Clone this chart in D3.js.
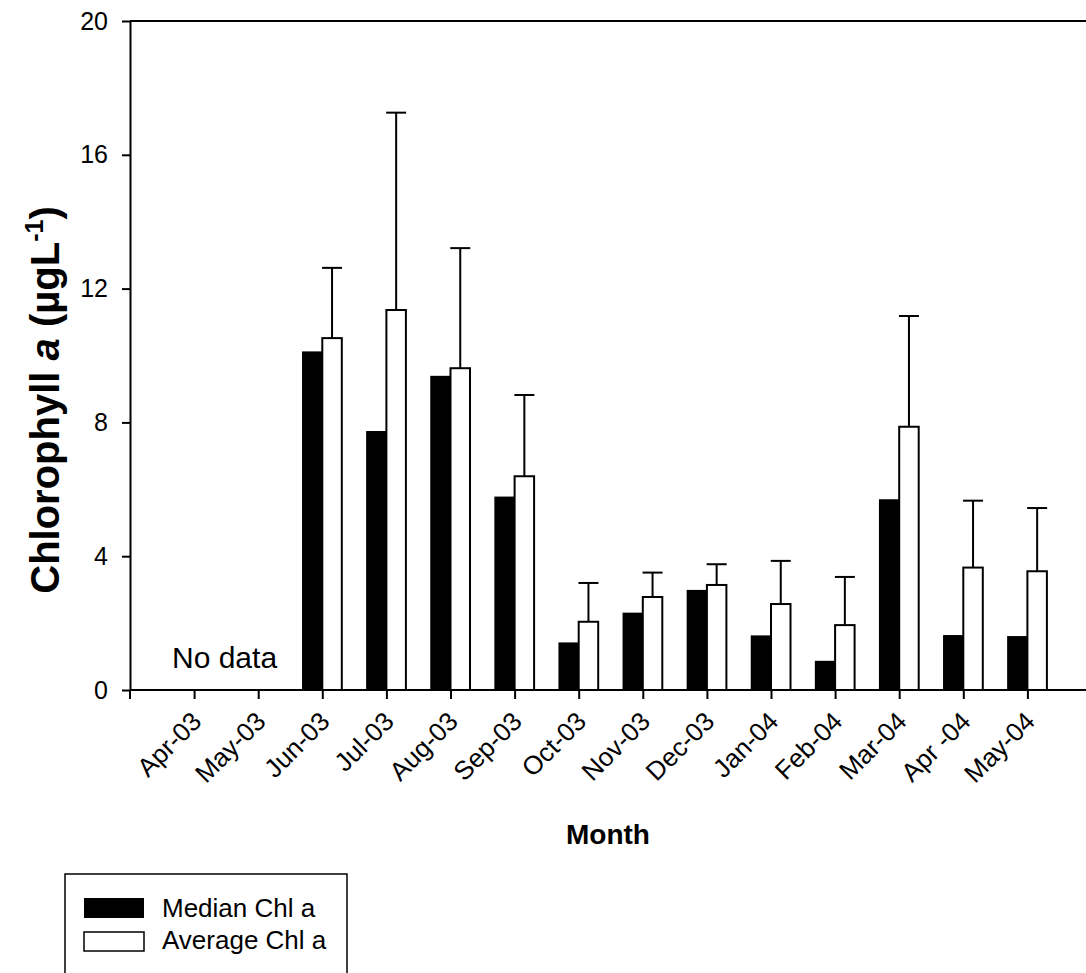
<!DOCTYPE html>
<html>
<head>
<meta charset="utf-8">
<script src="https://cdn.jsdelivr.net/npm/d3@7/dist/d3.min.js"></script>
<style>
  html, body { margin: 0; padding: 0; background: #fff; }
  svg { display: block; font-family: "Liberation Sans", Arial, Helvetica, sans-serif; }
</style>
</head>
<body>
<svg id="chart" width="1086" height="973"></svg>
<script>
// Monthly chlorophyll a, median and average with upper error (mean + SD)
const months = ["Apr-03", "May-03", "Jun-03", "Jul-03", "Aug-03", "Sep-03", "Oct-03",
                "Nov-03", "Dec-03", "Jan-04", "Feb-04", "Mar-04", "Apr -04", "May-04"];
const medianChl = [null, null, 10.10, 7.72, 9.37, 5.76, 1.40, 2.29, 2.97, 1.61, 0.85, 5.68, 1.62, 1.59];
const averageChl = [null, null, 10.52, 11.36, 9.62, 6.39, 2.04, 2.78, 3.14, 2.57, 1.94, 7.87, 3.66, 3.55];
const errorTop = [null, null, 12.62, 17.26, 13.21, 8.82, 3.20, 3.51, 3.76, 3.86, 3.38, 11.18, 5.66, 5.44];
const yTicks = [0, 4, 8, 12, 16, 20];

const svg = d3.select("#chart");
const plotLeft = 130, plotTop = 21, plotBottom = 690, step = 64.1;
const plotRight = plotLeft + step * 15;

const x = d3.scalePoint()
  .domain(months)
  .range([plotLeft, plotRight])
  .padding(1);

const y = d3.scaleLinear().domain([0, 20]).range([plotBottom, plotTop]);

const barW = 19.5;
const rows = months.map((m, i) => ({
  month: m, median: medianChl[i], average: averageChl[i], err: errorTop[i]
})).filter(d => d.median !== null);

// Axes
const yAxis = d3.axisLeft(y).tickValues(yTicks).tickSize(8).tickSizeOuter(0).tickPadding(14);
svg.append("g")
  .attr("transform", `translate(${plotLeft},0)`)
  .call(yAxis)
  .call(g => {
    g.select(".domain").attr("stroke-width", 2);
    g.selectAll(".tick line").attr("stroke-width", 2);
    g.selectAll(".tick text").attr("font-size", 25).attr("fill", "#000")
      .attr("font-family", "'Liberation Sans', Arial, sans-serif");
  });

const xAxis = d3.axisBottom(x).tickSize(9).tickSizeOuter(0).tickFormat(() => "");
svg.append("g")
  .attr("transform", `translate(0,${plotBottom})`)
  .call(xAxis)
  .call(g => {
    g.select(".domain").attr("stroke-width", 2).attr("d", `M${plotLeft},0H${plotRight}`);
    g.selectAll(".tick line").attr("stroke-width", 2);
  });

// tick at the origin
svg.append("line")
  .attr("x1", plotLeft).attr("x2", plotLeft).attr("y1", plotBottom).attr("y2", plotBottom + 9)
  .attr("stroke", "#000").attr("stroke-width", 2);

// top frame line
svg.append("line")
  .attr("x1", plotLeft).attr("x2", plotRight).attr("y1", y(20)).attr("y2", y(20))
  .attr("stroke", "#000").attr("stroke-width", 2);

// rotated month labels
svg.append("g").selectAll("text")
  .data(months)
  .join("text")
  .attr("transform", d => `translate(${x(d) + 9},${plotBottom + 33}) rotate(-45)`)
  .attr("text-anchor", "end")
  .attr("font-size", 26)
  .text(d => d);

// bars
const bars = svg.append("g");
bars.selectAll("rect.median")
  .data(rows)
  .join("rect")
  .attr("class", "median")
  .attr("x", d => x(d.month) - barW)
  .attr("width", barW)
  .attr("y", d => y(d.median))
  .attr("height", d => y(0) - y(d.median))
  .attr("fill", "#000")
  .attr("stroke", "#000")
  .attr("stroke-width", 1.5);

bars.selectAll("rect.average")
  .data(rows)
  .join("rect")
  .attr("class", "average")
  .attr("x", d => x(d.month))
  .attr("width", barW)
  .attr("y", d => y(d.average))
  .attr("height", d => y(0) - y(d.average))
  .attr("fill", "#fff")
  .attr("stroke", "#000")
  .attr("stroke-width", 2);

// upper error bars on the averages
const eg = bars.append("g").attr("stroke", "#000").attr("stroke-width", 2);
eg.selectAll("line.stem")
  .data(rows)
  .join("line")
  .attr("class", "stem")
  .attr("x1", d => x(d.month) + barW / 2).attr("x2", d => x(d.month) + barW / 2)
  .attr("y1", d => y(d.average)).attr("y2", d => y(d.err));
eg.selectAll("line.cap")
  .data(rows)
  .join("line")
  .attr("class", "cap")
  .attr("x1", d => x(d.month) + barW / 2 - 10).attr("x2", d => x(d.month) + barW / 2 + 10)
  .attr("y1", d => y(d.err)).attr("y2", d => y(d.err));

// note for the missing months
svg.append("text")
  .attr("x", 172).attr("y", 668)
  .attr("font-size", 30)
  .text("No data");

// axis titles
svg.append("text")
  .attr("x", 608).attr("y", 844)
  .attr("text-anchor", "middle")
  .attr("font-size", 28).attr("font-weight", "bold")
  .text("Month");

const yt = svg.append("text")
  .attr("transform", "translate(59,400) rotate(-90)")
  .attr("text-anchor", "middle")
  .attr("font-size", 40).attr("font-weight", "bold");
yt.append("tspan").text("Chlorophyll ");
yt.append("tspan").attr("font-style", "italic").text("a");
yt.append("tspan").text(" (\u00b5gL");
yt.append("tspan").attr("dy", -16).attr("font-size", 25).text("-1");
yt.append("tspan").attr("dy", 16).text(")");

// legend
const lg = svg.append("g");
lg.append("rect")
  .attr("x", 65).attr("y", 874).attr("width", 282).attr("height", 140)
  .attr("fill", "none").attr("stroke", "#000").attr("stroke-width", 1.5);
lg.append("rect").attr("x", 84).attr("y", 898).attr("width", 60).attr("height", 20).attr("fill", "#000");
lg.append("rect").attr("x", 84).attr("y", 932).attr("width", 60).attr("height", 19)
  .attr("fill", "#fff").attr("stroke", "#000").attr("stroke-width", 1.5);
lg.append("text").attr("x", 162).attr("y", 917).attr("font-size", 26).text("Median Chl a");
lg.append("text").attr("x", 162).attr("y", 949).attr("font-size", 26).text("Average Chl a");
</script>
</body>
</html>
